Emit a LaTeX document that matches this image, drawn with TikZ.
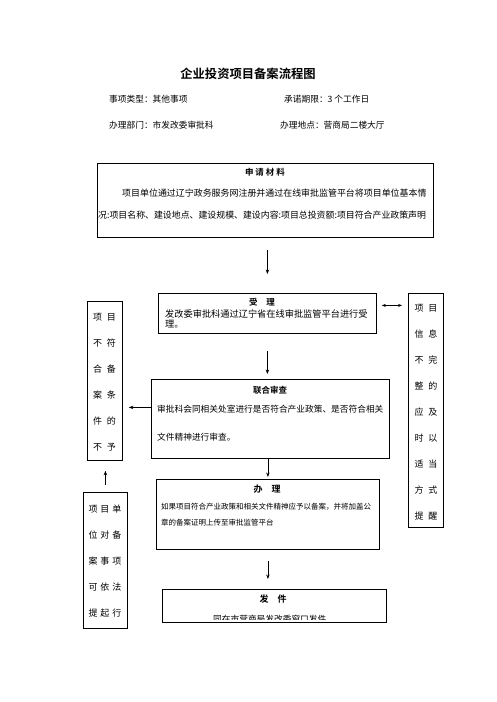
\documentclass[tikz,border=0pt]{standalone}
\usepackage{fontspec}
\setmainfont{Noto Sans CJK SC}[BoldFont={Noto Sans CJK SC Bold}]
\usetikzlibrary{arrows.meta}
\tikzset{
  box/.style={draw, line width=0.8pt, inner sep=0pt, anchor=north west},
  txt/.style={inner sep=0pt, anchor=west},
  ctxt/.style={inner sep=0pt, anchor=center},
  arr/.style={-{Stealth[length=4.5pt,width=3.4pt]}, line width=0.6pt},
  darr/.style={{Stealth[length=4pt,width=3pt]}-{Stealth[length=4pt,width=3pt]}, line width=0.6pt},
  col/.style={inner sep=0pt, anchor=center, align=center},
}
\newcommand{\fs}[1]{\fontsize{#1}{#1}\selectfont}
\begin{document}
\begin{tikzpicture}[x=1pt,y=-1pt]
\useasboundingbox (0,0) rectangle (496,702);
\fill[white] (0,0) rectangle (496,702);

% title and header
\node[ctxt, font=\fs{12.3}\bfseries] (title) at (248,74) {企业投资项目备案流程图};
\node[txt, font=\fs{8.7}] (h1) at (109,99) {事项类型：其他事项};
\node[txt, font=\fs{8.7}] (h2) at (284,99) {承诺期限：3 个工作日};
\node[txt, font=\fs{8.7}] (h3) at (109,125) {办理部门：市发改委审批科};
\node[txt, font=\fs{8.7}] (h4) at (280,125) {办理地点：营商局二楼大厅};

% boxes
\node[box, minimum width=336pt, minimum height=74pt] (b1) at (97,163) {};
\node[box, minimum width=218pt, minimum height=40pt] (b2) at (158,293) {};
\node[box, minimum width=238pt, minimum height=79pt] (b3) at (151,379) {};
\node[box, minimum width=223pt, minimum height=70pt] (b4) at (156,479) {};
\node[box, minimum width=224pt, minimum height=33pt] (b5) at (162,589) {};
\node[box, minimum width=35pt, minimum height=159pt] (lb1) at (87,301) {};
\node[box, minimum width=44pt, minimum height=136pt] (lb2) at (83,492) {};
\node[box, minimum width=35pt, minimum height=234pt] (rb) at (408,293) {};

% box 1 text
\node[ctxt, font=\fs{8.5}\bfseries] (t1) at (265,172) {申\hspace{2pt}请\hspace{2pt}材\hspace{2pt}料};
\node[txt, font=\fs{8.95}] (t1a) at (122,193) {项目单位通过辽宁政务服务网注册并通过在线审批监管平台将项目单位基本情};
\node[txt, font=\fs{8.9}] (t1b) at (98,215) {况:项目名称、建设地点、建设规模、建设内容:项目总投资额:项目符合产业政策声明};

% box 2 text
\node[ctxt, font=\fs{8.5}\bfseries] (t2) at (262,302) {受\hspace{9pt}理};
\node[txt, font=\fs{9.2}] (t2a) at (165,314) {发改委审批科通过辽宁省在线审批监管平台进行受};
\node[txt, font=\fs{9.2}] (t2b) at (165,324) {理。};

% box 3 text
\node[ctxt, font=\fs{8.5}\bfseries] (t3) at (270,390) {联合审查};
\node[txt, font=\fs{8.7}] (t3a) at (157,409) {审批科会同相关处室进行是否符合产业政策、是否符合相关};
\node[txt, font=\fs{8.7}] (t3b) at (157,437) {文件精神进行审查。};

% box 4 text
\node[ctxt, font=\fs{9}\bfseries] (t4) at (267,489) {办\hspace{9pt}理};
\node[txt, font=\fs{7.5}] (t4a) at (161,507) {如果项目符合产业政策和相关文件精神应予以备案，并将加盖公};
\node[txt, font=\fs{7.5}] (t4b) at (161,523) {章的备案证明上传至审批监管平台};

% box 5 text
\node[ctxt, font=\fs{9}\bfseries] (t5) at (273,599) {发\hspace{9pt}件};
\begin{scope}
  \clip (b5.north west) rectangle ([yshift=3pt]b5.south east);
  \node[txt, font=\fs{8.7}] (t5a) at (213,619.5) {同在市营商局发改委窗口发件};
\end{scope}

% side columns
\node[col, font={\fontsize{9}{26}\selectfont}] (lt1) at (104.5,382)
  {项\hspace{5pt}目\\不\hspace{5pt}符\\合\hspace{5pt}备\\案\hspace{5pt}条\\件\hspace{5pt}的\\不\hspace{5pt}予};
\node[col, font={\fontsize{9}{26}\selectfont}] (lt2) at (105,561)
  {项\hspace{3pt}目\hspace{3pt}单\\位\hspace{3pt}对\hspace{3pt}备\\案\hspace{3pt}事\hspace{3pt}项\\可\hspace{3pt}依\hspace{3pt}法\\提\hspace{3pt}起\hspace{3pt}行};
\node[col, font={\fontsize{9}{26}\selectfont}] (rt) at (426,412)
  {项\hspace{5pt}目\\信\hspace{5pt}息\\不\hspace{5pt}完\\整\hspace{5pt}的\\应\hspace{5pt}及\\时\hspace{5pt}以\\适\hspace{5pt}当\\方\hspace{5pt}式\\提\hspace{5pt}醒};

% connectors
\draw[arr, shorten <=12pt, shorten >=19pt] (b1.south -| b2.north) -- (b2.north);
\draw[arr, shorten <=17pt, shorten >=5pt] (b2.south) -- (b2.south |- b3.north);
\draw[arr, shorten >=2pt] (b4.north |- b3.south) -- (b4.north);
\draw[arr, shorten <=11pt, shorten >=10pt] (b4.south) -- (b4.south |- b5.north);
\coordinate (j3) at ([yshift=11.5pt]b3.west);
\draw[arr, shorten >=6pt] (j3) -- (j3 -| lb1.east);
\draw[arr, shorten <=7pt, shorten >=10pt] (lb2.north) -- (lb2.north |- lb1.south);
\coordinate (j2) at ([yshift=8pt]b2.east);
\draw[darr, shorten <=5pt, shorten >=6pt] (j2) -- (j2 -| rb.west);
\end{tikzpicture}
\end{document}
